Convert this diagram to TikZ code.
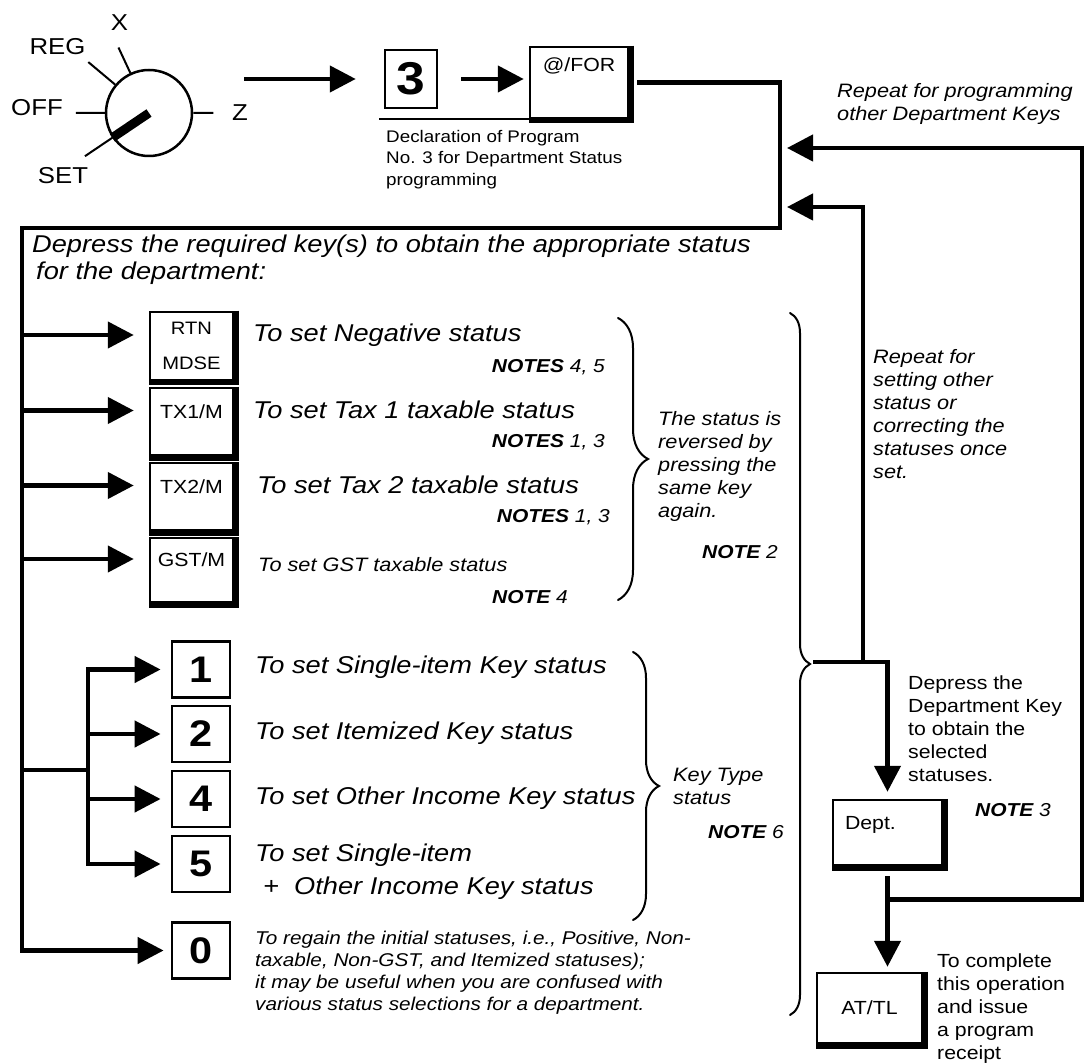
\documentclass[tikz,border=0pt]{standalone}
\usepackage{fontspec}
\setmainfont{Liberation Sans}[FakeStretch=1.12]
\usetikzlibrary{arrows.meta, calc, decorations.pathreplacing}

\newcommand\bigit{\fontsize{24.3}{27}\selectfont\itshape}
\newcommand\smit{\fontsize{19.4}{23}\selectfont\itshape}
\newcommand\smup{\fontsize{19}{23}\selectfont}
\newcommand\noteit{\fontsize{18.7}{22}\selectfont\itshape}
\newcommand\keyfnt{\fontsize{19}{35}\selectfont}
\newcommand\digit{\fontsize{37}{37}\selectfont\bfseries}

\begin{document}
\begin{tikzpicture}[x=1pt, y=-1pt, line join=miter,
  conn/.style={line width=4.5pt, line cap=rect},
  arr/.style={conn, -{Triangle[length=26pt, width=26pt]}},
  key/.style={draw, line width=2.5pt, inner sep=0pt, minimum width=83pt,
    minimum height=67pt, font=\keyfnt, align=center},
  raised/.style={text height=14pt, text depth=20.5pt},
  numkey/.style={draw, line width=2.8pt, inner sep=0pt, minimum width=58pt,
    minimum height=56pt, font=\digit},
  brc/.style={line width=2pt, line cap=round, decorate, decoration={brace, amplitude=#1}},
  txt/.style={anchor=west, align=left, inner sep=0pt},
  swlbl/.style={inner sep=0pt, font=\fontsize{23}{23}\selectfont}]
\useasboundingbox (0,0) rectangle (1087,1064);

\node[circle, draw, line width=2.5pt, minimum size=86pt, inner sep=0pt] (sw) at (149,113) {};
\draw[line width=2pt] (sw.180) -- ++(180:29pt) (sw.0) -- ++(0:20pt)
  (sw.140) -- ++(140:35pt) (sw.115) -- ++(115:28pt) (sw.214) -- ++(214:33pt);
\draw[line width=9pt] (sw.center) -- (sw.214);
\node[swlbl] (off) at (37,108) {OFF};
\node[swlbl] (reg) at (57.5,47) {REG};
\node[swlbl] (xpos) at (119.5,23) {X};
\node[swlbl] (zpos) at (240,113) {Z};
\node[swlbl] (setpos) at (63,176) {SET};

\node[numkey, line width=2.5pt, minimum width=52pt, minimum height=58pt,
  font=\fontsize{46}{46}\selectfont\bfseries] (k3) at (411,79) {3};
\node[key, minimum width=98pt, minimum height=71pt, text height=14pt, text depth=36pt] (for) at (579,82.5) {@/FOR};
\coordinate (swout) at (246,79);
\draw[arr] (swout) -- ([xshift=-28pt]k3.west);
\draw[arr] ([xshift=25pt]k3.east) -- ([xshift=-5pt]k3.east -| for.west);
\draw[line width=1.5pt] (for.south east) -- ([xshift=-5pt]for.south east -| k3.west);
\node[txt, font=\fontsize{16.8}{21.5}\selectfont] (decl) at (386,159.5)
  {Declaration of Program\\No. 3 for Department Status\\programming};

\node[key, minimum height=68pt, font=\fontsize{18}{35}\selectfont] (rtn) at (191.5,346) {RTN\\MDSE};
\node[key, raised] (tx1) at (191.5,421.5) {TX1/M};
\node[key, raised] (tx2) at (191.5,496.5) {TX2/M};
\node[key, raised, minimum height=64pt] (gst) at (191.5,570) {GST/M};
\foreach \n/\y in {1/669.5, 2/734, 4/799, 5/864, 0/950.5}
  \node[numkey] (k\n) at (201,\y) {\n};
\node[key, minimum width=109pt, minimum height=65pt, text width=85pt, align=left,
  text height=14pt, text depth=19.5pt] (dept) at (887.5,832.5) {Dept.};
\node[key, minimum width=105pt, minimum height=70pt] (attl) at (869.5,1008) {AT/TL};
\foreach \k in {rtn,tx1,tx2,gst,for,dept,attl}
  \draw[line width=5.5pt] ([xshift=1.5pt]\k.north east) -- ([xshift=1.5pt,yshift=-1.5pt]\k.south east)
    -- ([yshift=-1.5pt]\k.south west);

\coordinate (frm) at (780,228);
\coordinate (lft) at (22,228);
\draw[arr] ([xshift=10pt]for.east) -| (frm) -- (lft) |- ([xshift=-7pt]k0.west);
\foreach \k in {rtn,tx1,tx2,gst} {
  \coordinate (tip) at ($(\k.west)+(-15,-11)$);
  \draw[arr] (lft |- tip) -- (tip);
}
\coordinate (br) at (88,770);
\draw[conn] (lft |- br) -- (br);
\draw[conn] (br |- k1) -- (br |- k5);
\foreach \k in {k1,k2,k4,k5}
  \draw[arr] (br |- \k) -- ([xshift=-10pt]\k.west);

\draw[brc=30pt] (618,318) -- (618,600);
\draw[brc=26pt] (633,652) -- (633,920);
\draw[brc=20pt] (790,313) -- (790,1015);

\coordinate (bt) at (815,662);
\coordinate (split) at (863,662);
\coordinate (back1) at (787,207);
\coordinate (back2) at (787,148);
\coordinate (rgt) at (1082,148);
\draw[conn] (bt) -- (bt -| dept.north);
\draw[arr] (bt -| dept.north) -- ([yshift=7pt]dept.north);
\draw[arr] (split) |- (back1);
\draw[arr] ([yshift=-12pt]dept.south) -- ([yshift=5pt]dept.south |- attl.north);
\coordinate (jn) at ($(dept.south)+(0,33)$);
\draw[arr] (jn) -| (rgt) -- (back2);

\node[txt, font=\bigit] (head) at (32,260)
  {Depress the required key(s) to obtain the appropriate status\\\hspace{4pt}for the department:};
\node[txt, font=\bigit] (dneg) at (253,335) {To set Negative status};
\node[txt, font=\bigit] (dtx1) at (253,410) {To set Tax 1 taxable status};
\node[txt, font=\bigit] (dtx2) at (257,485) {To set Tax 2 taxable status};
\node[txt, font=\smit] (dgst) at (258,565) {To set GST taxable status};
\node[txt, anchor=east, font=\noteit] (n45) at (605,367) {\textbf{NOTES} 4, 5};
\node[txt, anchor=east, font=\noteit] (n13a) at (605,442) {\textbf{NOTES} 1, 3};
\node[txt, anchor=east, font=\noteit] (n13b) at (610,517) {\textbf{NOTES} 1, 3};
\node[txt, anchor=east, font=\noteit] (n4) at (568,597) {\textbf{NOTE} 4};

\node[txt, font=\bigit] (d1) at (255,667) {To set Single-item Key status};
\node[txt, font=\bigit] (d2) at (255,733) {To set Itemized Key status};
\node[txt, font=\bigit] (d4) at (255,798) {To set Other Income Key status};
\node[txt, font=\fontsize{24.3}{33}\selectfont\itshape] (d5) at (255,871.5)
  {To set Single-item\\\hspace{8pt}+\ \ Other Income Key status};
\node[txt, font=\fontsize{18.5}{22}\selectfont\itshape] (d0) at (255,973)
  {To regain the initial statuses, i.e., Positive, Non-\\taxable, Non-GST, and Itemized statuses);\\
   it may be useful when you are confused with\\various status selections for a department.};

\node[txt, font=\smit] (rev) at (658,466.5) {The status is\\reversed by\\pressing the\\same key\\again.};
\node[txt, font=\noteit] (n2) at (702,552) {\textbf{NOTE} 2};
\node[txt, font=\smit] (ktype) at (673,786.5) {Key Type\\status};
\node[txt, font=\noteit] (n6) at (708,832) {\textbf{NOTE} 6};

\node[txt, font=\smit] (rep1) at (837,103.5) {Repeat for programming\\other Department Keys};
\node[txt, font=\smit] (rep2) at (873,414) {Repeat for\\setting other\\status or\\correcting the\\statuses once\\set.};
\node[txt, font=\smup] (ddept) at (908,728.5) {Depress the\\Department Key\\to obtain the\\selected\\statuses.};
\node[txt, font=\noteit] (n3) at (975,810) {\textbf{NOTE} 3};
\node[txt, font=\smup] (dend) at (937,1008.5) {To complete\\this operation\\and issue\\a program\\receipt};
\end{tikzpicture}
\end{document}
